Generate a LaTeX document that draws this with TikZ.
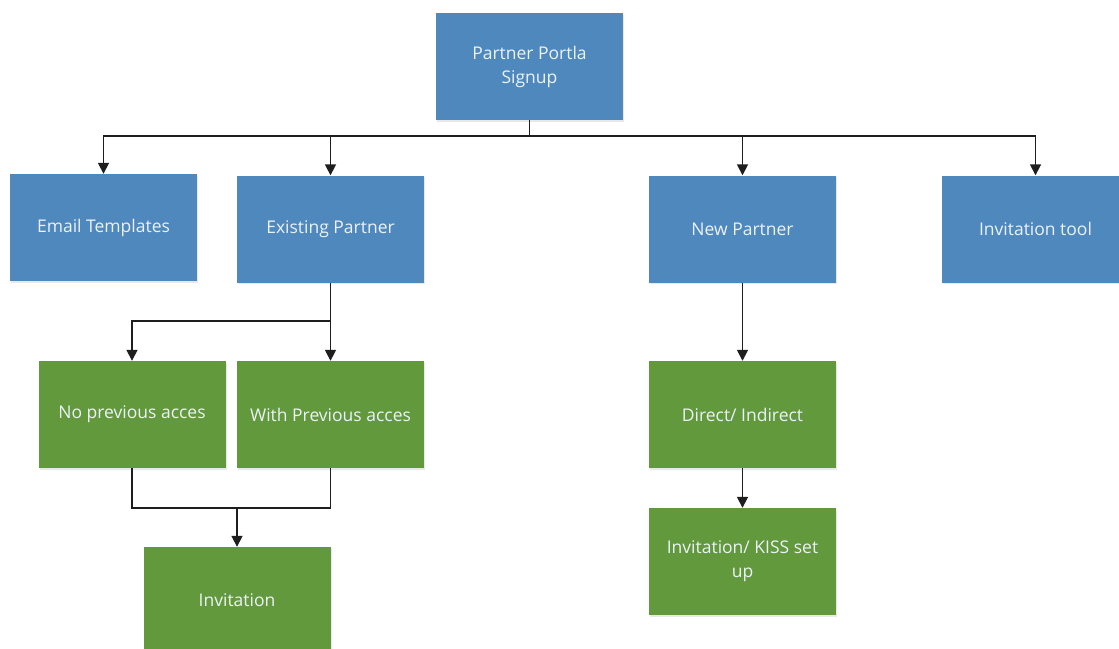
\documentclass[tikz,border=0pt]{standalone}
\usepackage{fontspec}
\setmainfont{Open Sans}
\usetikzlibrary{arrows.meta,shadows}
\definecolor{boxblue}{RGB}{79,136,188}
\definecolor{boxgreen}{RGB}{98,153,60}
\definecolor{boxtext}{RGB}{236,242,248}
\definecolor{wire}{RGB}{30,30,30}
\tikzset{
  card/.style={rectangle, minimum width=187pt, minimum height=107pt, inner sep=0pt,
    text=boxtext, align=center, font=\fontsize{17.5}{24}\selectfont,
    drop shadow={opacity=0.18, shadow xshift=1pt, shadow yshift=-1.5pt}},
  bluecard/.style={card, fill=boxblue},
  greencard/.style={card, fill=boxgreen},
  wireline/.style={draw=wire, line width=1.7pt},
  flow/.style={wireline, -{Triangle[length=11pt,width=11pt]}}
}
\begin{document}
\begin{tikzpicture}[x=1pt,y=-1pt]
\useasboundingbox (0,0) rectangle (1119,648);
\clip (0,0) rectangle (1119,648);
% top level
\node[bluecard] (signup) at (529.5,66.5) {Partner Portla\\Signup};
% second level
\node[bluecard] (email) at (103.5,227.5) {Email Templates};
\node[bluecard] (existing) at (330.5,229) {Existing Partner};
\node[bluecard] (newp) at (742.5,229) {New Partner};
\node[bluecard] (tool) at (1035.5,229) {Invitation tool};
% existing partner branch
\node[greencard] (noprev) at (132,414.5) {No previous acces};
\node[greencard] (withprev) at (330.5,414.5) {With Previous acces};
\node[greencard] (invite) at (237,600.5) {Invitation};
% new partner branch
\node[greencard] (direct) at (742.5,414.5) {Direct/ Indirect};
\node[greencard] (kiss) at (742.5,561.5) {Invitation/ KISS set\\up};
% bus from the signup box
\coordinate (bus) at (signup.south |- 0,136);
\draw[wireline] (signup.south) -- (bus);
\draw[flow] (bus) -| (email.north);
\draw[flow] (bus) -| (existing.north);
\draw[flow] (bus) -| (newp.north);
\draw[flow] (bus) -| (tool.north);
% split under existing partner
\coordinate (split) at (existing.south |- 0,321);
\draw[wireline] (existing.south) -- (split);
\draw[flow] (split) -| (noprev.north);
\draw[flow] (split) -- (withprev.north);
% merge into invitation
\coordinate (merge) at (invite.north |- 0,508);
\draw[wireline] (noprev.south) |- (merge);
\draw[wireline] (withprev.south) |- (merge);
\draw[flow] (merge) -- (invite.north);
% new partner chain
\draw[flow] (newp.south) -- (direct.north);
\draw[flow] (direct.south) -- (kiss.north);
\end{tikzpicture}
\end{document}
